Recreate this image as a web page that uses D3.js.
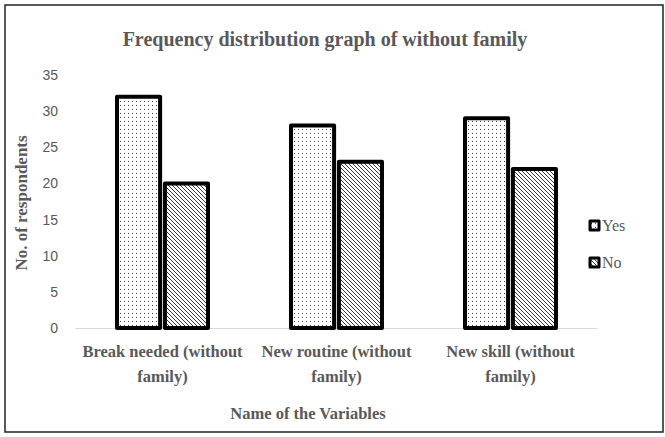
<!DOCTYPE html>
<html>
<head>
<meta charset="utf-8">
<script src="https://cdn.jsdelivr.net/npm/d3@7"></script>
<style>
  body { margin: 0; background: #fff; }
  svg { display: block; }
</style>
</head>
<body>
<div id="chart-container"></div>
<script>
const categories = ["Break needed (without family)", "New routine (without family)", "New skill (without family)"];
const categoryLines = [["Break needed (without", "family)"], ["New routine (without", "family)"], ["New skill (without", "family)"]];
const seriesNames = ["Yes", "No"];
const yesValues = [32, 28, 29];
const noValues = [20, 23, 22];
const yTicks = [0, 5, 10, 15, 20, 25, 30, 35];

const chartWidth = 665;
const chartHeight = 437;
const textColor = "#595959";

const svg = d3.select("#chart-container").append("svg")
    .attr("width", chartWidth)
    .attr("height", chartHeight);

// patterns: dots for Yes, diagonal hatch for No
const defs = svg.append("defs");
const dots = defs.append("pattern")
    .attr("id", "dots")
    .attr("patternUnits", "userSpaceOnUse")
    .attr("width", 4).attr("height", 4);
dots.append("rect").attr("width", 4).attr("height", 4).attr("fill", "#fff");
dots.append("rect").attr("x", 1).attr("y", 1).attr("width", 1).attr("height", 1).attr("fill", "#444");

const hatch = defs.append("pattern")
    .attr("id", "hatch")
    .attr("patternUnits", "userSpaceOnUse")
    .attr("width", 4).attr("height", 4);
hatch.append("rect").attr("width", 4).attr("height", 4).attr("fill", "#fff");
hatch.append("path")
    .attr("d", "M-1,-1 L5,5 M-1,3 L1,5 M3,-1 L5,1")
    .attr("stroke", "#222")
    .attr("stroke-width", 0.9);

const fills = {"Yes": "url(#dots)", "No": "url(#hatch)"};

// outer border
svg.append("rect")
    .attr("x", 5).attr("y", 5)
    .attr("width", 658).attr("height", 427)
    .attr("fill", "none")
    .attr("stroke", "#222")
    .attr("stroke-width", 1.5);

const x = d3.scaleBand()
    .domain(categories)
    .range([75, 597]);

const xSub = d3.scaleBand()
    .domain(seriesNames)
    .range([42, 133])
    .paddingInner(0.1);

const y = d3.scaleLinear()
    .domain([0, 35])
    .range([328, 75]);

// y tick labels
const yAxis = d3.axisLeft(y).tickValues(yTicks).tickSize(0).tickPadding(0);
const yG = svg.append("g")
    .attr("transform", "translate(58,0)")
    .call(yAxis);
yG.select(".domain").remove();
yG.selectAll("text")
    .attr("fill", textColor)
    .style("font-family", "'Liberation Sans', sans-serif")
    .style("font-size", "14px");

// baseline
const xAxis = d3.axisBottom(x).tickSize(0).tickFormat("");
const xG = svg.append("g")
    .attr("transform", `translate(0,${y(0)})`)
    .call(xAxis);
xG.select(".domain").attr("stroke", "#d9d9d9").attr("stroke-width", 1);

const data = categories.map((c, i) => ({
    category: c,
    values: [{key: "Yes", value: yesValues[i]}, {key: "No", value: noValues[i]}]
}));

const groups = svg.selectAll(".group")
    .data(data)
    .enter()
    .append("g")
    .attr("class", "group")
    .attr("transform", d => `translate(${x(d.category)},0)`);

groups.selectAll("rect")
    .data(d => d.values)
    .enter()
    .append("rect")
    .attr("x", d => xSub(d.key))
    .attr("y", d => y(d.value))
    .attr("width", xSub.bandwidth())
    .attr("height", d => y(0) - y(d.value))
    .attr("fill", d => fills[d.key])
    .attr("stroke", "#000")
    .attr("stroke-width", 4)
    .attr("stroke-linejoin", "round");

// category labels
const catLabels = svg.selectAll(".cat-label")
    .data(categories)
    .enter()
    .append("text")
    .attr("class", "cat-label")
    .attr("text-anchor", "middle")
    .attr("fill", textColor)
    .style("font-family", "'Liberation Serif', serif")
    .style("font-weight", "bold")
    .style("font-size", "16.5px");
catLabels.each(function (d, i) {
    const cx = x(d) + xSub.range()[0] + (xSub.range()[1] - xSub.range()[0]) / 2;
    d3.select(this).selectAll("tspan")
        .data(categoryLines[i])
        .enter()
        .append("tspan")
        .attr("x", cx)
        .attr("y", (t, j) => 357 + j * 25)
        .text(t => t);
});

// title
svg.append("text")
    .attr("x", 325)
    .attr("y", 46)
    .attr("text-anchor", "middle")
    .attr("fill", textColor)
    .style("font-family", "'Liberation Serif', serif")
    .style("font-weight", "bold")
    .style("font-size", "20px")
    .text("Frequency distribution  graph of without  family");

// axis titles
svg.append("text")
    .attr("x", 308)
    .attr("y", 419)
    .attr("text-anchor", "middle")
    .attr("fill", textColor)
    .style("font-family", "'Liberation Serif', serif")
    .style("font-weight", "bold")
    .style("font-size", "16.5px")
    .text("Name  of the Variables");

svg.append("text")
    .attr("transform", "translate(27,203) rotate(-90)")
    .attr("text-anchor", "middle")
    .attr("fill", textColor)
    .style("font-family", "'Liberation Serif', serif")
    .style("font-weight", "bold")
    .style("font-size", "17px")
    .text("No. of respondents");

// legend
const legend = svg.append("g").attr("transform", "translate(590,226)");
seriesNames.forEach((s, i) => {
    const row = legend.append("g").attr("transform", `translate(0,${i * 37})`);
    row.append("rect")
        .attr("x", 0).attr("y", -5)
        .attr("width", 9).attr("height", 9)
        .attr("fill", fills[s])
        .attr("stroke", "#000")
        .attr("stroke-width", 3)
        .attr("stroke-linejoin", "round");
    row.append("text")
        .attr("x", 12)
        .attr("y", 5)
        .attr("fill", textColor)
        .style("font-family", "'Liberation Serif', serif")
        .style("font-size", "16px")
        .text(s);
});
</script>
</body>
</html>
